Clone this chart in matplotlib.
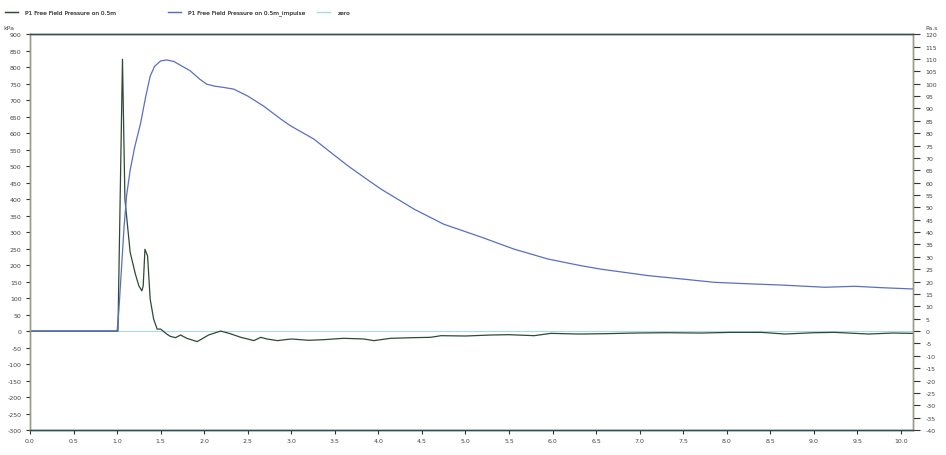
import numpy as np
import matplotlib.pyplot as plt
from matplotlib.lines import Line2D

# free field pressure at 0.5 m (kPa)
t_p = [0.0, 1.0, 1.01, 1.062, 1.09, 1.15, 1.21, 1.25, 1.285, 1.30, 1.32, 1.35, 1.38,
       1.42, 1.46, 1.50, 1.57, 1.61, 1.67, 1.73, 1.80, 1.92, 2.05, 2.19, 2.30, 2.42,
       2.50, 2.57, 2.65, 2.72, 2.84, 3.00, 3.20, 3.38, 3.60, 3.83, 3.95, 4.14, 4.40,
       4.60, 4.72, 5.00, 5.29, 5.50, 5.79, 5.98, 6.30, 6.60, 6.94, 7.30, 7.70, 8.05,
       8.40, 8.67, 9.00, 9.24, 9.63, 9.90, 10.15]
pressure = [0, 0, 0, 824, 400, 239, 173, 137, 122, 137, 248, 228, 97,
            36, 6, 6, -9, -16, -20, -12, -22, -32, -12, 0, -8, -19,
            -24, -29, -19, -24, -29, -24, -28, -26, -22, -24, -29, -22, -20,
            -19, -14, -15, -12, -11, -14, -7, -9, -8, -6, -5, -6, -4,
            -4, -9, -5, -4, -9, -6, -7]

# impulse (kPa.ms)
t_i = [0.0, 1.0, 1.02, 1.05, 1.08, 1.11, 1.15, 1.20, 1.27, 1.33, 1.38, 1.43, 1.50,
       1.57, 1.65, 1.75, 1.84, 1.95, 2.03, 2.12, 2.22, 2.34, 2.50, 2.68, 2.88, 2.99,
       3.26, 3.45, 3.65, 3.85, 4.03, 4.41, 4.75, 5.18, 5.56, 5.95, 6.33, 6.56, 7.10,
       7.50, 7.86, 8.25, 8.63, 9.13, 9.47, 9.80, 10.15]
impulse = [0, 0, 8, 25, 42, 55, 65, 74, 84, 95, 103, 107, 109.2,
           109.6, 109, 107, 105.2, 101.8, 99.8, 99.0, 98.5, 97.8, 95, 91, 85.7, 83,
           77.6, 72.3, 66.8, 61.8, 57.4, 49.3, 43.2, 38, 33.1, 29.1, 26.4, 25, 22.4,
           21.0, 19.7, 19.1, 18.6, 17.7, 18.1, 17.5, 17]

x_ticks = np.arange(0, 10.01, 0.5)
y_ticks = np.arange(-300, 901, 50)
y2_ticks = np.arange(-40, 121, 5)

fs = 4.5
txt = "#444444"
c_p, c_i, c_z = "#2e4a36", "#5b6fc0", "#a8dce6"

fig = plt.figure(figsize=(9.46, 4.56), dpi=100)
ax = fig.add_axes([0.0317, 0.0548, 0.9335, 0.868])
ax2 = ax.twinx()

ax.axhline(0, color=c_z, lw=0.8, zorder=1)
ax.plot(t_p, pressure, color=c_p, lw=0.9, zorder=3)
ax2.plot(t_i, impulse, color=c_i, lw=0.9)

ax.set_xlim(0, 10.14)
ax.set_ylim(-300, 900)
ax2.set_ylim(-40, 120)
ax.set_xticks(x_ticks)
ax.set_xticklabels([f"{v:.1f}" for v in x_ticks], fontsize=fs, color=txt)
ax.set_yticks(y_ticks)
ax.set_yticklabels([str(v) for v in y_ticks], fontsize=fs, color=txt)
ax2.set_yticks(y2_ticks)
ax2.set_yticklabels([str(v) for v in y2_ticks], fontsize=fs, color=txt)

ax.tick_params(axis="both", length=3, width=0.8, color="#333333", pad=3)
ax2.tick_params(axis="y", length=5, width=0.8, color="#333333", pad=4)

for a in (ax, ax2):
    a.spines["top"].set_color("#2f5050")
    a.spines["bottom"].set_color("#2f5050")
    a.spines["left"].set_color("#9a9a88")
    a.spines["right"].set_color("#9a9a88")
    for s in a.spines.values():
        s.set_linewidth(1.0)

fig.text(0.004, 0.935, "kPa", fontsize=fs, color=txt)
fig.text(0.978, 0.935, "Pa.s", fontsize=fs, color=txt)

# one legend per entry so each sits at its own spot along the top
entries = [(c_p, "P1 Free Field Pressure on 0.5m", 0.0),
           (c_i, "P1 Free Field Pressure on 0.5m_impulse", 0.172),
           (c_z, "zero", 0.330)]
for color, label, x0 in entries:
    leg = fig.legend([Line2D([], [], color=color, lw=0.9)], [label],
                     loc="upper left", bbox_to_anchor=(x0, 0.988), frameon=False,
                     fontsize=4.2, handlelength=2.2, handletextpad=1.2)
    for t in leg.get_texts():
        t.set_color(txt)
    fig.add_artist(leg)

fig.savefig("out.png", dpi=100)
